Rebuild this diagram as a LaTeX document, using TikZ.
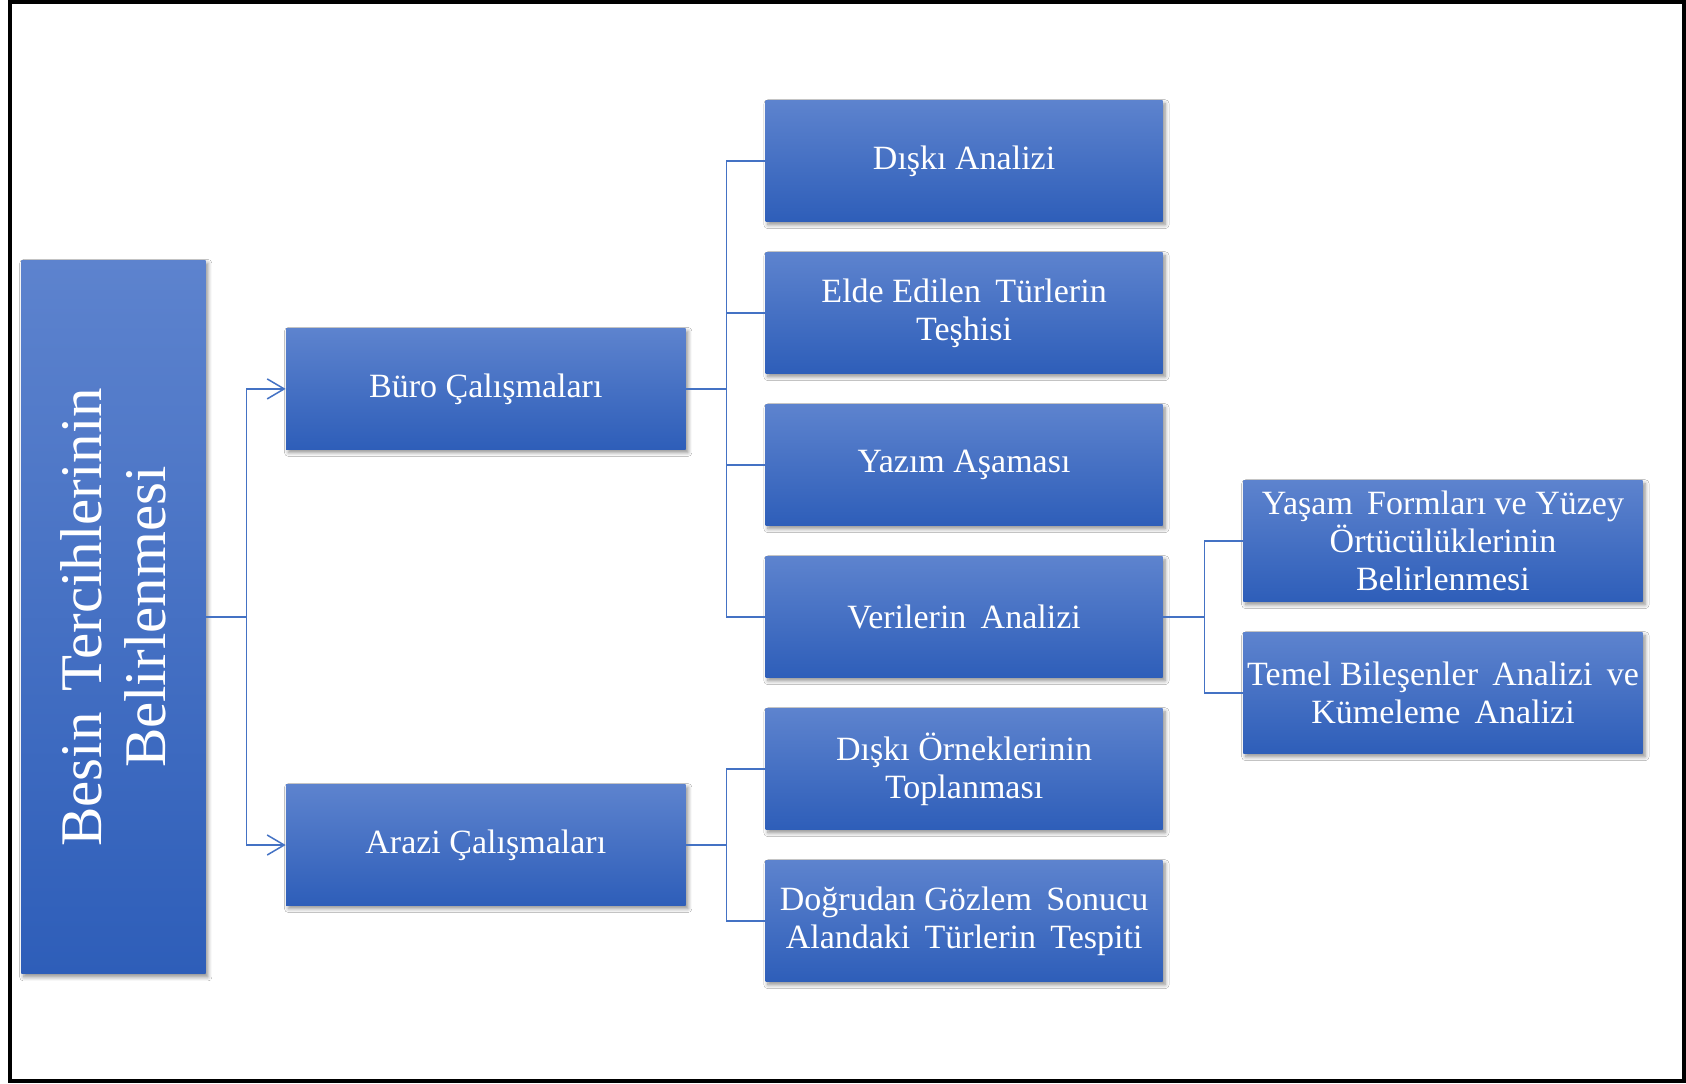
\documentclass[tikz,border=0pt]{standalone}
\usepackage{fontspec}
\setmainfont{Liberation Serif}
\usetikzlibrary{arrows.meta,shadows,shadows.blur}
\definecolor{boxtop}{RGB}{93,131,206}
\definecolor{boxbot}{RGB}{46,94,185}
\definecolor{linkblue}{RGB}{68,114,196}
\newcommand{\wsp}{\hspace{0.42em}}
\tikzset{
  boxstyle/.style={rectangle, top color=boxtop, bottom color=boxbot, draw=none,
    text=white, align=center, inner sep=2pt,
    font=\fontsize{17pt}{19pt}\selectfont,
    blur shadow={shadow xshift=1.2pt, shadow yshift=-1.5pt, shadow blur steps=6, shadow blur radius=2pt, shadow opacity=45}},
  colbox/.style={boxstyle, minimum width=198.6pt, minimum height=60.5pt},
  link/.style={draw=linkblue, line width=0.75pt},
  arrlink/.style={link, -{Straight Barb[length=8.5pt,width=10pt]}},
}
\begin{document}
\begin{tikzpicture}[x=0.5pt,y=-0.5pt]
\useasboundingbox (0,0) rectangle (1686,1083);
\fill[white] (0,0) rectangle (1686,1083);
\draw[line width=2pt] (10,1.7) rectangle (1684,1081);

% main box
\node[boxstyle, minimum width=92.1pt, minimum height=356.75pt] (big) at (113.4,617.2) {};
\node[text=white, align=center, rotate=90, font=\fontsize{29.5pt}{32pt}\selectfont] (bigtxt) at (big.center) {Besin\hspace{0.35em}Tercihlerinin\\Belirlenmesi};

% second level
\node[boxstyle, minimum width=199.75pt, minimum height=60.5pt] (buro) at (485.8,388.9) {Büro Çalışmaları};
\node[boxstyle, minimum width=199.75pt, minimum height=60.5pt] (arazi) at (485.8,845) {Arazi Çalışmaları};

% third level
\node[colbox] (r1) at (964.1,161.2) {Dışkı Analizi};
\node[colbox] (r2) at (964.1,313.2) {Elde Edilen\wsp Türlerin\\Teşhisi};
\node[colbox] (r3) at (964.1,465.2) {Yazım Aşaması};
\node[colbox] (r4) at (964.1,617.2) {Verilerin\wsp Analizi};
\node[colbox] (r5) at (964.1,769.2) {Dışkı Örneklerinin\\Toplanması};
\node[colbox] (r6) at (964.1,921.2) {Doğrudan Gözlem\wsp Sonucu\\Alandaki\wsp Türlerin\wsp Tespiti};

% fourth level
\node[boxstyle, minimum width=199.7pt, minimum height=60.5pt] (f1) at (1443,541.2) {Yaşam\wsp Formları ve Yüzey\\Örtücülüklerinin\\Belirlenmesi};
\node[boxstyle, inner xsep=0pt, minimum width=199.7pt, minimum height=60.5pt] (f2) at (1443,693.2) {Temel Bileşenler\wsp Analizi\wsp ve\\Kümeleme\wsp Analizi};

% junctions
\coordinate (j1) at (246.7,617.2);
\coordinate (j2) at (726.3,388.9);
\coordinate (j3) at (726.3,845);
\coordinate (j4) at (1204.3,617.2);

\draw[link] (big.east) -- (j1);
\draw[arrlink] (j1) |- (buro.west);
\draw[arrlink] (j1) |- (arazi.west);

\draw[link] (buro.east) -- (j2);
\draw[link] (j2) |- (r1.west);
\draw[link] (j2) |- (r2.west);
\draw[link] (j2) |- (r3.west);
\draw[link] (j2) |- (r4.west);

\draw[link] (arazi.east) -- (j3);
\draw[link] (j3) |- (r5.west);
\draw[link] (j3) |- (r6.west);

\draw[link] (r4.east) -- (j4);
\draw[link] (j4) |- (f1.west);
\draw[link] (j4) |- (f2.west);
\end{tikzpicture}
\end{document}
